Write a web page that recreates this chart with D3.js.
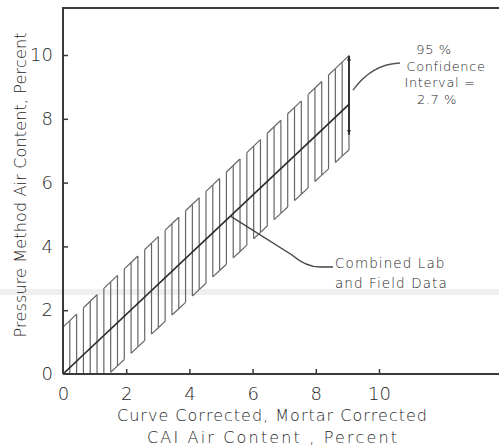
<!DOCTYPE html>
<html>
<head>
<meta charset="utf-8">
<script src="https://cdn.jsdelivr.net/npm/d3@7"></script>
<style>
  body { margin: 0; background: #fff; }
  text { font-family: "DejaVu Sans ExtraLight", "DejaVu Sans", sans-serif; font-weight: 200; fill: #262626; }
</style>
</head>
<body>
<div id="chart"></div>
<script>
//constants
const width = 499,
  height = 447,
  fontStack = "DejaVu Sans ExtraLight, DejaVu Sans, sans-serif";

// data
const xTicks = [0, 2, 4, 6, 8, 10];
const yTicks = [0, 2, 4, 6, 8, 10];
const fitLine = [[0, 0], [9.05, 8.45]];      // combined lab and field data
const upperLine = [[0, 1.47], [9.05, 9.98]]; // upper 95% limit
const lowerLine = [[1.45, 0], [9.05, 7.03]]; // lower 95% limit
const hatchCount = 42;                      // vertical hatch strokes across the band
const arrowSpan = [9.98, 7.5];               // double arrow at right end
const noteLines = ["95 %", "Confidence", "Interval =", "2.7 %"];
const dataLines = ["Combined Lab", "and Field Data"];
const xTitle = ["Curve Corrected, Mortar Corrected", "CAI  Air  Content , Percent"];
const yTitle = "Pressure Method Air Content, Percent";

const x = d3.scaleLinear().domain([0, 10]).range([63, 379]);
const y = d3.scaleLinear().domain([0, 10]).range([374, 55]);

const svg = d3.select("#chart")
  .append("svg")
  .attr("width", width)
  .attr("height", height);

// scan stripe
svg.append("rect")
  .attr("x", 0).attr("y", 289).attr("width", width).attr("height", 6)
  .attr("fill", "#efefef");

// line helpers for the band
const lerp = (seg, v) => {
  const [[x0, y0], [x1, y1]] = seg;
  return y0 + (y1 - y0) * (v - x0) / (x1 - x0);
};
const up = v => lerp(upperLine, v);
const lo = v => Math.max(0, lerp(lowerLine, v));

// hatching: vertical strokes with broken top and bottom limits
const x0 = fitLine[0][0], x1 = fitLine[1][0];
const hx = d3.range(hatchCount + 1).map(i => x0 + (x1 - x0) * i / hatchCount);

const hatch = svg.append("g")
  .attr("stroke", "#666")
  .attr("stroke-width", 1.2)
  .attr("fill", "none");

hatch.selectAll("line.v")
  .data(hx)
  .join("line")
  .attr("class", "v")
  .attr("x1", d => x(d)).attr("x2", d => x(d))
  .attr("y1", d => y(up(d))).attr("y2", d => y(lo(d)));

const pairs = d3.range(hatchCount).map(i => ({ a: hx[i], b: hx[i + 1], i }));
// upper limit pieces
hatch.selectAll("line.t")
  .data(pairs.filter(p => p.i % 3 !== 2 || p.i === hatchCount - 1))
  .join("line")
  .attr("class", "t")
  .attr("x1", d => x(d.a)).attr("x2", d => x(d.b))
  .attr("y1", d => y(up(d.a))).attr("y2", d => y(up(d.b)));
// lower limit pieces
hatch.selectAll("line.b")
  .data(pairs.filter(p => (p.i % 3 !== 0 || p.i === hatchCount - 1) && p.b > lowerLine[0][0]))
  .join("line")
  .attr("class", "b")
  .attr("x1", d => x(Math.max(d.a, lowerLine[0][0]))).attr("x2", d => x(d.b))
  .attr("y1", d => y(lo(Math.max(d.a, lowerLine[0][0])))).attr("y2", d => y(lo(d.b)));

// fitted line
svg.append("path")
  .datum(fitLine)
  .attr("d", d3.line().x(d => x(d[0])).y(d => y(d[1])))
  .attr("stroke", "#2a2a2a")
  .attr("stroke-width", 1.7)
  .attr("fill", "none");

// frame: left axis, bottom axis, top border
const frame = svg.append("g").attr("stroke", "#3a3a3a").attr("stroke-width", 2);
frame.append("line").attr("x1", x(0)).attr("x2", x(0)).attr("y1", 8).attr("y2", y(0));
frame.append("line").attr("x1", x(0) - 1).attr("x2", width).attr("y1", 8).attr("y2", 8);
frame.append("line").attr("x1", x(0)).attr("x2", width).attr("y1", y(0)).attr("y2", y(0));

// axes with small inward ticks
const xAxis = svg.append("g")
  .attr("transform", `translate(0,${y(0)})`)
  .call(d3.axisBottom(x).tickValues(xTicks).tickSizeInner(-5).tickSizeOuter(0).tickPadding(13));
const yAxis = svg.append("g")
  .attr("transform", `translate(${x(0)},0)`)
  .call(d3.axisLeft(y).tickValues(yTicks).tickSizeInner(-5).tickSizeOuter(0).tickPadding(10));

[xAxis, yAxis].forEach(g => {
  g.select(".domain").remove();
  g.selectAll(".tick line").attr("stroke", "#3a3a3a").attr("stroke-width", 1.5);
  g.selectAll(".tick text")
    .attr("font-size", 18)
    .attr("font-family", fontStack)
    .attr("font-weight", 200)
    .attr("fill", "#262626");
});
xAxis.selectAll(".tick").filter(d => d === 0).select("line").remove();
yAxis.selectAll(".tick").filter(d => d === 0).select("line").remove();

// axis titles
svg.append("text")
  .attr("transform", "translate(26,185) rotate(-90)")
  .attr("text-anchor", "middle")
  .attr("font-size", 16)
  .attr("textLength", 305)
  .attr("lengthAdjust", "spacing")
  .text(yTitle);

svg.selectAll("text.xt")
  .data(xTitle)
  .join("text")
  .attr("class", "xt")
  .attr("x", 272)
  .attr("y", (d, i) => 421 + i * 22)
  .attr("text-anchor", "middle")
  .attr("font-size", 16)
  .attr("textLength", (d, i) => i === 0 ? 310 : 250)
  .attr("lengthAdjust", "spacing")
  .text(d => d);

// double arrow at the right end of the band
const defs = svg.append("defs");
defs.append("marker")
  .attr("id", "head")
  .attr("viewBox", "0 0 10 10")
  .attr("refX", 10).attr("refY", 5)
  .attr("markerWidth", 5).attr("markerHeight", 9)
  .attr("orient", "auto-start-reverse")
  .attr("markerUnits", "userSpaceOnUse")
  .append("path")
  .attr("d", "M0,1 L10,5 L0,9 Z")
  .attr("fill", "#2a2a2a");

svg.append("line")
  .attr("x1", x(x1)).attr("x2", x(x1))
  .attr("y1", y(arrowSpan[0])).attr("y2", y(arrowSpan[1]))
  .attr("stroke", "#2a2a2a")
  .attr("stroke-width", 1.8)
  .attr("marker-start", "url(#head)")
  .attr("marker-end", "url(#head)");

// confidence note and its leader
svg.selectAll("text.note")
  .data(noteLines)
  .join("text")
  .attr("class", "note")
  .attr("x", (d, i) => [434, 446, 440, 437][i])
  .attr("y", (d, i) => 54 + i * 16.5)
  .attr("text-anchor", "middle")
  .attr("font-size", 13)
  .attr("letter-spacing", 0.6)
  .text(d => d);

const ax = x(x1) + 4, ay = y(8.9);
svg.append("path")
  .attr("d", `M400,63 Q372,64 ${ax},${ay}`)
  .attr("stroke", "#555")
  .attr("stroke-width", 1.4)
  .attr("fill", "none");

// data note and its leader
svg.selectAll("text.data")
  .data(dataLines)
  .join("text")
  .attr("class", "data")
  .attr("x", 335)
  .attr("y", (d, i) => 268 + i * 20)
  .attr("font-size", 13.5)
  .attr("letter-spacing", 1.1)
  .text(d => d);

const sx = x(5.3), sy = y(lerp(fitLine, 5.3));
svg.append("path")
  .attr("d", `M${sx},${sy} L292,255 Q306,267 320,267 L333,267`)
  .attr("stroke", "#444")
  .attr("stroke-width", 1.4)
  .attr("fill", "none");
</script>
</body>
</html>
